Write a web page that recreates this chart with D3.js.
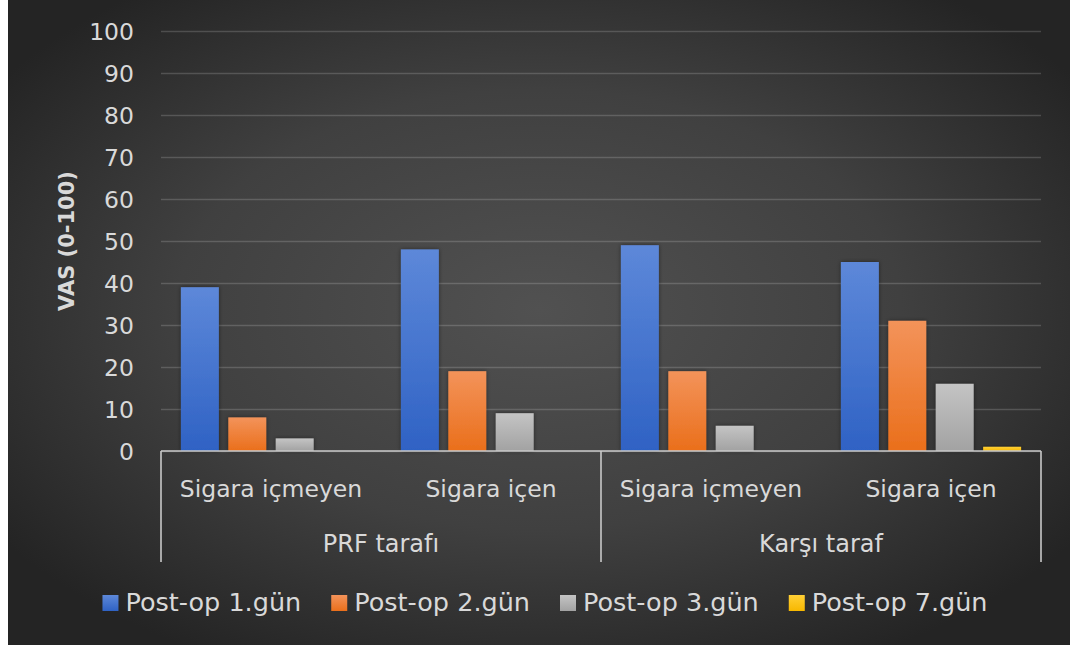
<!DOCTYPE html>
<html><head><meta charset="utf-8">
<script src="https://cdn.jsdelivr.net/npm/d3@7"></script>
<style>html,body{margin:0;padding:0;background:#fff;}svg{display:block;}</style>
</head><body>
<svg id="chart" width="1070" height="648"></svg>
<script>
const categories = ["Sigara içmeyen","Sigara içen","Sigara içmeyen","Sigara içen"];
const groups = ["PRF tarafı","Karşı taraf"];
const seriesNames = ["Post-op 1.gün","Post-op 2.gün","Post-op 3.gün","Post-op 7.gün"];
const day1 = [39,48,49,45];
const day2 = [8,19,19,31];
const day3 = [3,9,6,16];
const day7 = [0,0,0,1];
const yTicks = [0,10,20,30,40,50,60,70,80,90,100];
const yTitle = "VAS (0-100)";

const seriesValues = [day1,day2,day3,day7];
const colors = [["#5d88d9","#2f62c4"],["#f3935a","#ea6f1b"],["#c4c4c4","#a2a2a2"],["#ffd036","#f7b800"]];

const svg = d3.select("#chart");
const font = "'DejaVu Sans', sans-serif";
const txt = "#d9d9d9";

const defs = svg.append("defs");
const rg = defs.append("radialGradient").attr("id","bg").attr("cx","50%").attr("cy","48%").attr("r","62%");
rg.append("stop").attr("offset","0%").attr("stop-color","#515151");
rg.append("stop").attr("offset","55%").attr("stop-color","#404040");
rg.append("stop").attr("offset","100%").attr("stop-color","#242424");
colors.forEach((c,i)=>{
  const lg = defs.append("linearGradient").attr("id","g"+i).attr("x1",0).attr("y1",0).attr("x2",0).attr("y2",1);
  lg.append("stop").attr("offset","0%").attr("stop-color",c[0]);
  lg.append("stop").attr("offset","100%").attr("stop-color",c[1]);
});
const f = defs.append("filter").attr("id","sh").attr("x","-20%").attr("y","-20%").attr("width","140%").attr("height","140%");
f.append("feDropShadow").attr("dx",0).attr("dy",0).attr("stdDeviation",2).attr("flood-color","#000").attr("flood-opacity",0.45);

svg.append("rect").attr("x",8).attr("y",0).attr("width",1062).attr("height",645).attr("fill","url(#bg)");

const pLeft = 161, pRight = 1041, pTop = 31, pBottom = 451;
const y = d3.scaleLinear().domain([0,100]).range([pBottom,pTop]);
const x0 = d3.scaleBand().domain(d3.range(categories.length)).range([pLeft,pRight]).padding(0);
const x1 = d3.scaleBand().domain(d3.range(seriesNames.length)).range([0,x0.bandwidth()]).paddingInner(0.2).paddingOuter(0.42);
const xg = d3.scaleBand().domain(groups).range([pLeft,pRight]);

// y axis with gridlines
const ya = svg.append("g").attr("transform",`translate(${pLeft},0)`)
  .call(d3.axisLeft(y).tickValues(yTicks).tickSize(-(pRight-pLeft)).tickPadding(27));
ya.select(".domain").remove();
ya.selectAll(".tick line").attr("stroke","#ffffff").attr("stroke-opacity",0.17).attr("stroke-width",1.6);
ya.selectAll(".tick text").attr("fill",txt).attr("font-family",font).attr("font-size",23.5).attr("dy","0.36em");

// bars
const bars = svg.append("g");
seriesValues.forEach((vals,si)=>{
  bars.selectAll(null).data(vals).enter().append("rect")
    .attr("x",(d,i)=>x0(i)+x1(si))
    .attr("y",d=>y(d))
    .attr("width",x1.bandwidth())
    .attr("height",d=>y(0)-y(d))
    .attr("fill","url(#g"+si+")")
    .attr("filter","url(#sh)");
});

// x axis (categories)
const xa = svg.append("g").attr("transform",`translate(0,${pBottom})`)
  .call(d3.axisBottom(x0).tickSize(0).tickPadding(0).tickFormat(i=>categories[i]));
xa.select(".domain").remove();
xa.selectAll(".tick text").attr("fill",txt).attr("font-family",font).attr("font-size",23.5).attr("dy",0).attr("y",46);

// axis line and separators
const lineCol = "#c8c8c8";
svg.append("line").attr("x1",pLeft).attr("x2",pRight).attr("y1",pBottom).attr("y2",pBottom).attr("stroke",lineCol).attr("stroke-width",1.6);
const seps = [xg.range()[0]].concat(groups.map(g=>xg(g)+xg.bandwidth()));
svg.selectAll(null).data(seps).enter().append("line")
  .attr("x1",d=>d).attr("x2",d=>d).attr("y1",pBottom).attr("y2",562)
  .attr("stroke",lineCol).attr("stroke-width",1.6);
svg.selectAll(null).data(groups).enter().append("text")
  .attr("x",d=>xg(d)+xg.bandwidth()/2).attr("y",552)
  .attr("text-anchor","middle").attr("fill",txt).attr("font-family",font).attr("font-size",24)
  .text(d=>d);

// y title
svg.append("text").attr("transform",`translate(74,${(pTop+pBottom)/2}) rotate(-90)`)
  .attr("text-anchor","middle").attr("fill",txt).attr("font-family",font).attr("font-size",21).attr("font-weight","bold")
  .text(yTitle);

// legend
const leg = svg.append("g");
const items = leg.selectAll(null).data(seriesNames).enter().append("g");
items.append("rect").attr("x",0).attr("y",-16).attr("width",16).attr("height",16).attr("fill",(d,i)=>"url(#g"+i+")");
items.append("text").attr("x",23).attr("y",0).attr("fill",txt).attr("font-family",font).attr("font-size",25.5).text(d=>d);
let xpos = 0; const gap = 30;
items.each(function(){
  const w = 23 + d3.select(this).select("text").node().getComputedTextLength();
  d3.select(this).attr("transform",`translate(${xpos},0)`);
  xpos += w + gap;
});
const total = xpos - gap;
leg.attr("transform",`translate(${545 - total/2},611)`);
</script>
</body></html>
